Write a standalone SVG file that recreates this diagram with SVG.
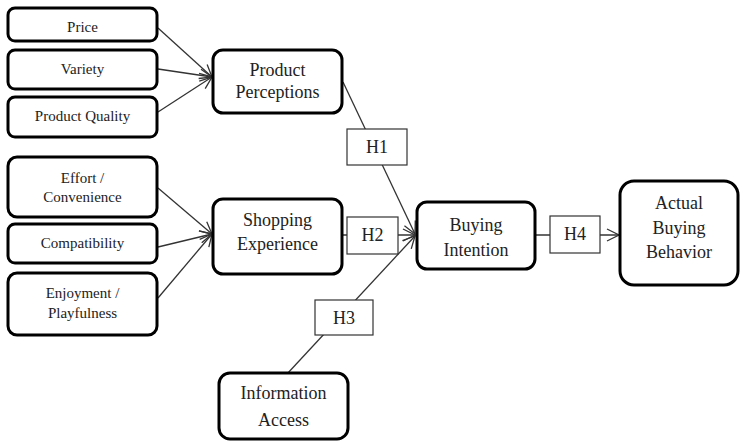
<svg xmlns="http://www.w3.org/2000/svg" width="741" height="444" viewBox="0 0 741 444">
<style>
  .box { fill: #ffffff; stroke: #000000; stroke-width: 3; }
  .hbox { fill: #ffffff; stroke: #333333; stroke-width: 1.2; }
  .edge { stroke: #333333; stroke-width: 1.3; fill: none; }
  text { font-family: 'Liberation Serif', 'Times New Roman', Times, 'DejaVu Serif', serif; fill: #222222; text-anchor: middle; }
  .s { font-size: 15px; }
  .l { font-size: 18px; }
</style>
<defs>
  <marker id="arr" markerUnits="userSpaceOnUse" markerWidth="14" markerHeight="14" viewBox="0 0 14 14" refX="13" refY="7" orient="auto">
    <path d="M1,1 L13,7 L1,13" fill="none" stroke="#333333" stroke-width="1.3"/>
  </marker>
</defs>
<rect width="741" height="444" fill="#ffffff"/>

<g id="connectors">
  <line class="edge" x1="158" y1="28" x2="212" y2="77" marker-end="url(#arr)"/>
  <line class="edge" x1="158" y1="69" x2="212" y2="77" marker-end="url(#arr)"/>
  <line class="edge" x1="158" y1="112" x2="212" y2="77" marker-end="url(#arr)"/>
  <line class="edge" x1="158" y1="188" x2="212" y2="234" marker-end="url(#arr)"/>
  <line class="edge" x1="158" y1="247" x2="212" y2="234" marker-end="url(#arr)"/>
  <line class="edge" x1="158" y1="298" x2="212" y2="234" marker-end="url(#arr)"/>
  <line class="edge" x1="343" y1="82" x2="415" y2="234" marker-end="url(#arr)"/>
  <line class="edge" x1="342" y1="235" x2="415" y2="235" marker-end="url(#arr)"/>
  <line class="edge" x1="287" y1="374" x2="415" y2="236" marker-end="url(#arr)"/>
  <line class="edge" x1="535" y1="235" x2="619" y2="235" marker-end="url(#arr)"/>
</g>

<g id="price"><rect class="box" x="8" y="8" width="149" height="33" rx="7"/><text class="s" x="82.5" y="32">Price</text></g>
<g id="variety"><rect class="box" x="8" y="50" width="149" height="39" rx="7"/><text class="s" x="82.5" y="74">Variety</text></g>
<g id="product-quality"><rect class="box" x="8" y="97" width="149" height="40" rx="7"/><text class="s" x="82.5" y="121">Product Quality</text></g>
<g id="effort"><rect class="box" x="8" y="157" width="149" height="60" rx="9"/><text class="s" x="82.5" y="183">Effort /</text><text class="s" x="82.5" y="202">Convenience</text></g>
<g id="compatibility"><rect class="box" x="8" y="224" width="149" height="39" rx="7"/><text class="s" x="82.5" y="248">Compatibility</text></g>
<g id="enjoyment"><rect class="box" x="8" y="273" width="149" height="62" rx="9"/><text class="s" x="82.5" y="298">Enjoyment /</text><text class="s" x="82.5" y="318">Playfulness</text></g>

<g id="product-perceptions"><rect class="box" x="213" y="50" width="129" height="63" rx="10"/><text class="l" x="277.5" y="76">Product</text><text class="l" x="277.5" y="98">Perceptions</text></g>
<g id="shopping-experience"><rect class="box" x="213" y="199" width="129" height="75" rx="10"/><text class="l" x="277.5" y="226">Shopping</text><text class="l" x="277.5" y="250">Experience</text></g>
<g id="buying-intention"><rect class="box" x="417" y="202" width="118" height="67" rx="10"/><text class="l" x="476" y="231">Buying</text><text class="l" x="476" y="256">Intention</text></g>
<g id="actual-buying-behavior"><rect class="box" x="620" y="181" width="118" height="104" rx="14"/><text class="l" x="679" y="209">Actual</text><text class="l" x="679" y="234">Buying</text><text class="l" x="679" y="258">Behavior</text></g>
<g id="information-access"><rect class="box" x="219" y="373" width="129" height="66" rx="11"/><text class="l" x="283.5" y="399">Information</text><text class="l" x="283.5" y="426">Access</text></g>

<g id="h1"><rect class="hbox" x="347" y="129" width="60" height="36"/><text class="l" x="377" y="153">H1</text></g>
<g id="h2"><rect class="hbox" x="347" y="217" width="51" height="37"/><text class="l" x="372.5" y="241">H2</text></g>
<g id="h3"><rect class="hbox" x="315" y="300" width="58" height="35"/><text class="l" x="344" y="324">H3</text></g>
<g id="h4"><rect class="hbox" x="550" y="216" width="50" height="37"/><text class="l" x="575" y="240">H4</text></g>
</svg>
